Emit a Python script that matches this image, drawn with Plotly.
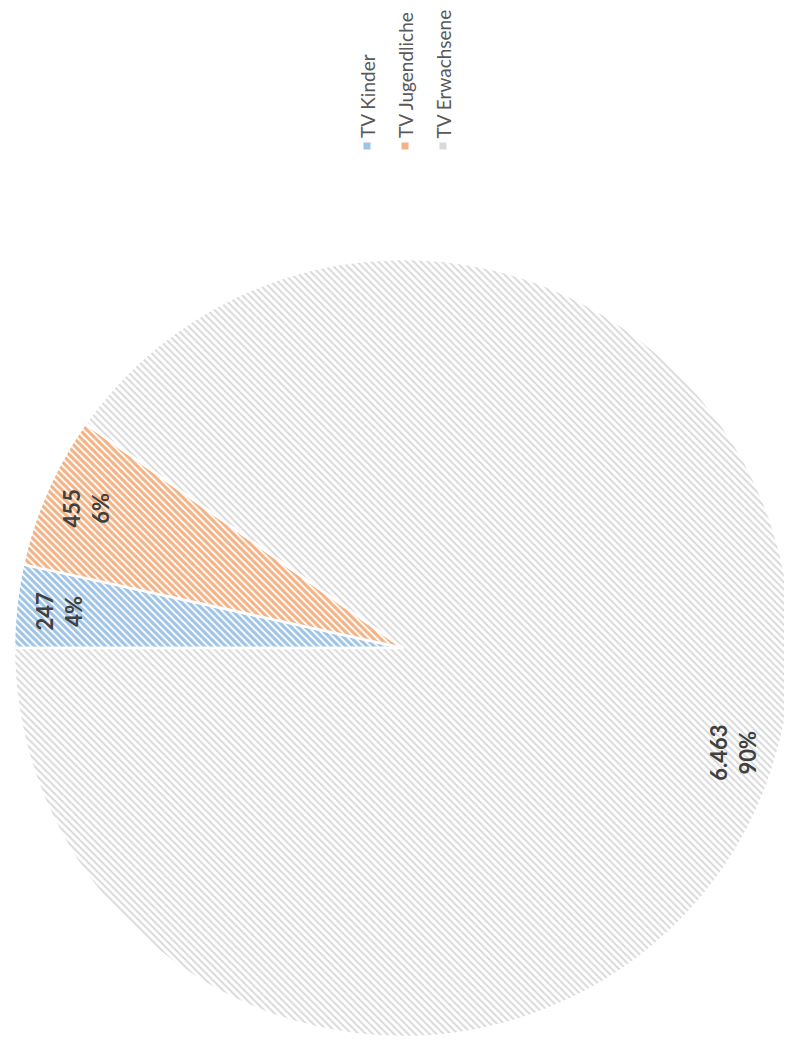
import math
import plotly.graph_objects as go

labels = ["TV Kinder", "TV Jugendliche", "TV Erwachsene"]
values = [247, 455, 6463]
percent_labels = ["4%", "6%", "90%"]
colors = ["#9DC3E6", "#F4B183", "#D9D9D9"]

W, H = 792, 1054
# page body has an 8px margin, so positions are shifted by -8
cx, cy, r = 395, 640, 389


def de_number(v):
    return f"{v:,}".replace(",", ".")


fig = go.Figure()

fig.add_trace(
    go.Pie(
        labels=labels,
        values=values,
        sort=False,
        direction="clockwise",
        rotation=-90,
        textinfo="none",
        showlegend=False,
        marker=dict(
            colors=colors,
            line=dict(color="white", width=2.5),
            pattern=dict(
                shape=["\\", "\\", "\\"],
                fgcolor=["#FFFFFF", "#FFFFFF", "#FFFFFF"],
                bgcolor=colors,
                size=[5, 5, 5],
                solidity=[0.4, 0.4, 0.6],
                fillmode="replace",
            ),
        ),
        domain=dict(x=[(cx - r) / W, (cx + r) / W], y=[1 - (cy + r) / H, 1 - (cy - r) / H]),
    )
)

# data labels, rotated like the rest of the chart
total = sum(values)
start = 0
for v, p in zip(values, percent_labels):
    mid = math.radians((start + v / 2) / total * 360)
    start += v
    px = cx - 0.89 * r * math.cos(mid)
    py = cy - 0.89 * r * math.sin(mid)
    fig.add_annotation(
        x=px / W, y=1 - py / H, xref="paper", yref="paper",
        xanchor="center", yanchor="middle",
        text=f"{de_number(v)}<br>{p}", textangle=-90, showarrow=False,
        font=dict(family="Lato", size=22, color="#404040", weight="bold"),
    )

# legend, rotated
for i, (lab, col) in enumerate(zip(labels, colors)):
    lx = 359 + 38 * i
    fig.add_annotation(
        x=lx / W, y=1 - 132 / H, xref="paper", yref="paper",
        text=lab, textangle=-90, showarrow=False,
        xanchor="center", yanchor="bottom",
        font=dict(family="Lato", size=19, color="#595959"),
    )
    fig.add_shape(
        type="rect", xref="paper", yref="paper",
        x0=(lx - 3.5) / W, x1=(lx + 3.5) / W,
        y0=1 - 141.5 / H, y1=1 - 134.5 / H,
        fillcolor=col, line=dict(width=0),
    )

fig.update_layout(
    width=W, height=H,
    margin=dict(l=0, r=0, t=0, b=0),
    paper_bgcolor="white",
    plot_bgcolor="white",
)

fig.write_html("out.html")
